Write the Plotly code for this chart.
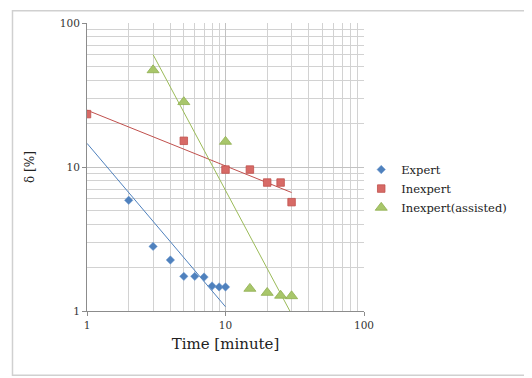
import plotly.graph_objects as go

# Data
expert_x = [2, 3, 4, 5, 6, 7, 8, 9, 10]
expert_y = [5.87, 2.81, 2.26, 1.74, 1.74, 1.72, 1.49, 1.47, 1.47]
expert_trend_x = [1, 10]
expert_trend_y = [14.6, 1.07]

inexpert_x = [1, 5, 10, 15, 20, 25, 30]
inexpert_y = [23.3, 15.2, 9.6, 9.6, 7.8, 7.8, 5.7]
inexpert_trend_x = [1, 30]
inexpert_trend_y = [24.8, 6.65]

assisted_x = [3, 5, 10, 15, 20, 25, 30]
assisted_y = [47.1, 28.3, 15.0, 1.43, 1.34, 1.28, 1.27]
assisted_trend_x = [3, 30]
assisted_trend_y = [60.3, 0.95]

major_ticks = [1, 10, 100]
major_labels = ["1", "10", "100"]
minor_ticks = [2, 3, 4, 5, 6, 7, 8, 9, 20, 30, 40, 50, 60, 70, 80, 90]

BLUE = "#4f81bd"
RED = "#c0504d"
GREEN = "#9bbb59"
FONT = "DejaVu Serif"

fig = go.Figure()

fig.add_trace(go.Scatter(x=expert_trend_x, y=expert_trend_y, mode="lines",
                         line=dict(color=BLUE, width=1), showlegend=False, hoverinfo="skip"))
fig.add_trace(go.Scatter(x=inexpert_trend_x, y=inexpert_trend_y, mode="lines",
                         line=dict(color=RED, width=1), showlegend=False, hoverinfo="skip"))
fig.add_trace(go.Scatter(x=assisted_trend_x, y=assisted_trend_y, mode="lines",
                         line=dict(color=GREEN, width=1), showlegend=False, hoverinfo="skip"))

fig.add_trace(go.Scatter(x=expert_x, y=expert_y, mode="markers", name="Expert",
                         marker=dict(symbol="diamond", size=6.5, color=BLUE,
                                     line=dict(width=0.5, color="#6f9bd1"))))
fig.add_trace(go.Scatter(x=inexpert_x, y=inexpert_y, mode="markers", name="Inexpert",
                         marker=dict(symbol="square", size=7.5, color="#d76a66",
                                     line=dict(width=0.8, color=RED))))
fig.add_trace(go.Scatter(x=assisted_x, y=assisted_y, mode="markers", name="Inexpert(assisted)",
                         marker=dict(symbol="triangle-up", size=10.5, color="#a8c66a",
                                     line=dict(width=0.8, color="#8fae4f"))))

axis_common = dict(
    type="log",
    tickmode="array",
    tickvals=major_ticks,
    ticktext=major_labels,
    showgrid=True,
    gridcolor="#c2c2c2",
    gridwidth=1,
    showline=True,
    linecolor="#8c8c8c",
    linewidth=1,
    ticks="outside",
    ticklen=4,
    tickcolor="#8c8c8c",
    tickfont=dict(family=FONT, size=10.5, color="#333333"),
    zeroline=False,
    minor=dict(tickmode="array", tickvals=minor_ticks, showgrid=True,
               gridcolor="#d2d2d2", gridwidth=1, ticks=""),
)

fig.update_xaxes(**axis_common, range=[0, 2],
                 title=dict(text="Time [minute]", font=dict(family=FONT, size=15, color="#222222"),
                            standoff=8))
fig.update_yaxes(**axis_common, range=[0, 2],
                 title=dict(text="δ [%]", font=dict(family=FONT, size=12, color="#222222"),
                            standoff=22))

fig.add_shape(type="rect", xref="paper", yref="paper",
              x0=-0.269, x1=1.599, y0=-0.223, y1=1.0425,
              line=dict(color="#d0d0d0", width=1.5), layer="below")

fig.update_layout(
    width=532, height=378,
    margin=dict(l=79, r=176, t=9, b=75),
    paper_bgcolor="white",
    plot_bgcolor="white",
    font=dict(family=FONT, color="#222222"),
    legend=dict(x=0.99, y=0.425, xanchor="left", yanchor="middle",
                font=dict(family=FONT, size=11.5, color="#222222"),
                bgcolor="rgba(0,0,0,0)", itemwidth=30, tracegroupgap=0),
)

fig.write_html("out.html")
